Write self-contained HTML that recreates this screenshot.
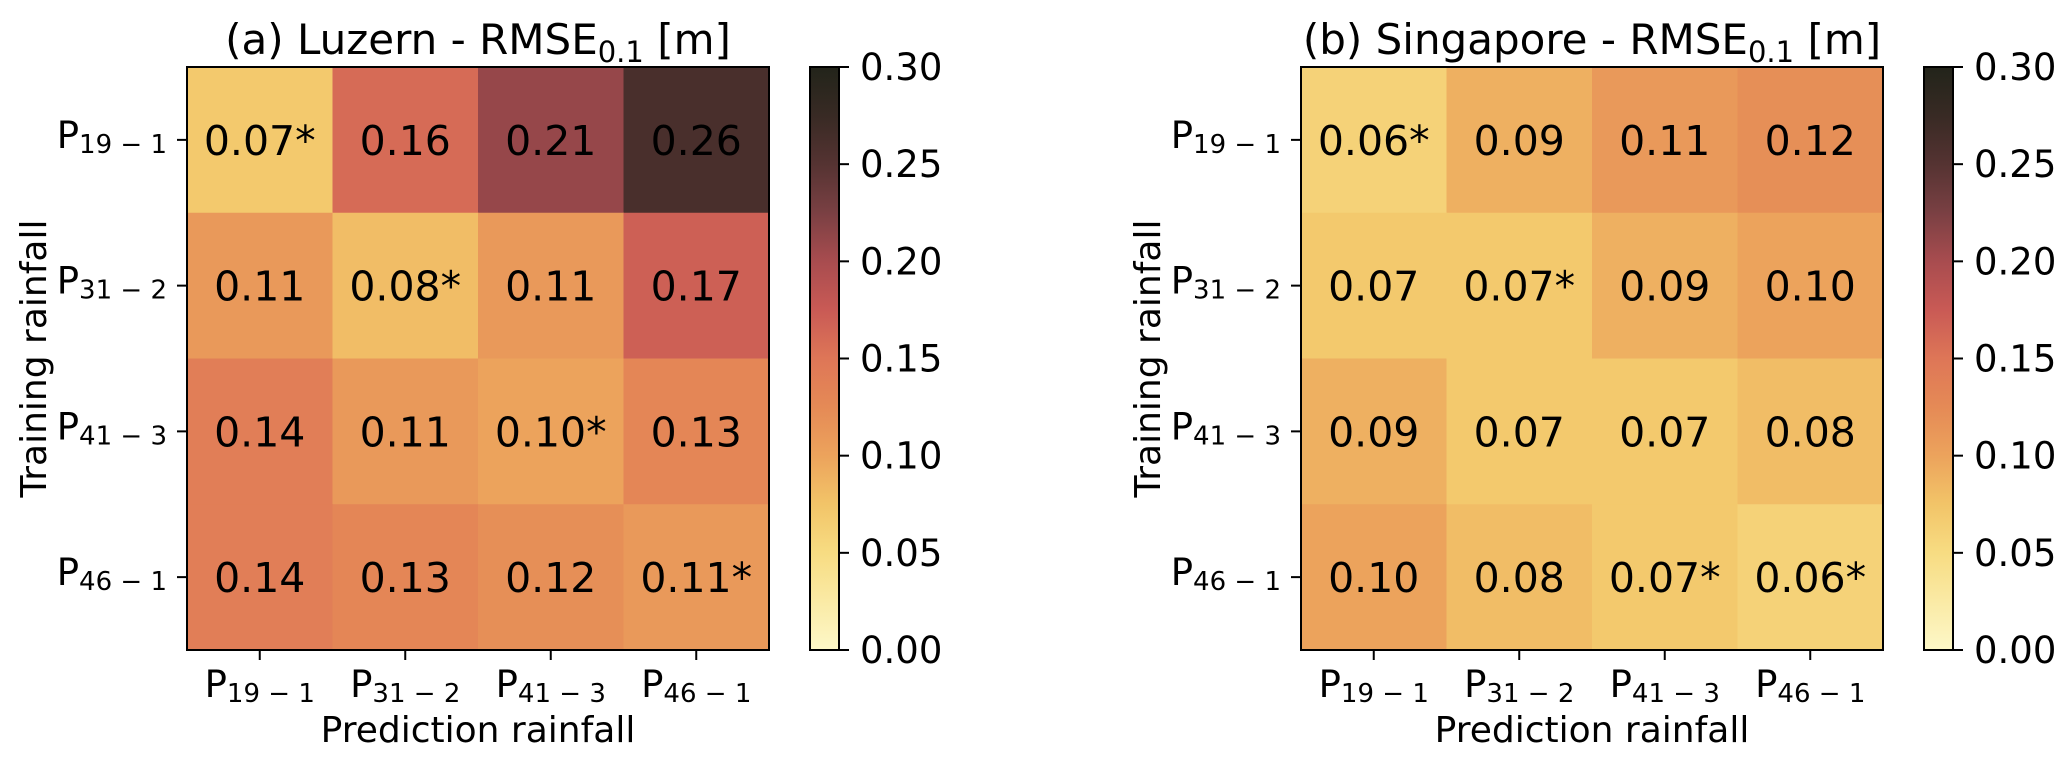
<!DOCTYPE html>
<html><head><meta charset="utf-8"><style>
html,body{margin:0;padding:0;background:#fff;}
svg{display:block;font-family:"DejaVu Sans","Liberation Sans",sans-serif;}
</style></head><body>
<svg id="fig" width="2067" height="767" viewBox="0 0 2067 767"></svg>
<script>
const categories = ["19 \u2212 1","31 \u2212 2","41 \u2212 3","46 \u2212 1"];
const luzernValues = [[0.07,0.16,0.21,0.26],[0.11,0.08,0.11,0.17],[0.14,0.11,0.10,0.13],[0.14,0.13,0.12,0.11]];
const luzernStars = [[1,0,0,0],[0,1,0,0],[0,0,1,0],[0,0,0,1]];
const singaporeValues = [[0.06,0.09,0.11,0.12],[0.07,0.07,0.09,0.10],[0.09,0.07,0.07,0.08],[0.10,0.08,0.07,0.06]];
const singaporeStars = [[1,0,0,0],[0,1,0,0],[0,0,0,0],[0,0,1,1]];
const cbTicks = [0.00,0.05,0.10,0.15,0.20,0.25,0.30];
const vmin = 0, vmax = 0.30;

const stops = [[0,'#fdf8c8'],[0.05,'#f7dc82'],[0.075,'#f2c468'],[0.10,'#eca35c'],[0.125,'#e58a56'],[0.15,'#de7657'],[0.175,'#c95a55'],[0.20,'#a84c4f'],[0.225,'#7a4043'],[0.25,'#553332'],[0.275,'#382a24'],[0.30,'#22241a']];
function hex(h){return [1,3,5].map(i=>parseInt(h.substr(i,2),16));}
function cmap(v){
  v=Math.max(vmin,Math.min(vmax,v));
  for(let i=0;i<stops.length-1;i++){
    if(v<=stops[i+1][0]){
      const t=(v-stops[i][0])/(stops[i+1][0]-stops[i][0]);
      const a=hex(stops[i][1]),b=hex(stops[i+1][1]);
      return 'rgb('+a.map((c,k)=>Math.round(c+(b[k]-c)*t)).join(',')+')';
    }
  }
  return stops[stops.length-1][1];
}
const NS='http://www.w3.org/2000/svg';
const svg=document.getElementById('fig');
function mk(tag,attrs,parent){const e=document.createElementNS(NS,tag);for(const k in attrs)e.setAttribute(k,attrs[k]);(parent||svg).appendChild(e);return e;}

const defs=mk('defs',{});
const grad=mk('linearGradient',{id:'cbg',x1:0,y1:1,x2:0,y2:0},defs);
stops.forEach(s=>mk('stop',{offset:(s[0]-vmin)/(vmax-vmin),'stop-color':s[1]},grad));

function panel(x0,title,name,vals,stars,cbx){
  const y0=67, W=582, H=583, n=4, cw=W/n, ch=H/n;
  const xs=i=>x0+(i+0.5)*cw, ys=j=>y0+(j+0.5)*ch;
  const g=mk('g',{});
  
  
  for(let r=0;r<n;r++)for(let c=0;c<n;c++){
    const rect=mk('rect',{x:x0+c*cw,y:y0+r*ch,width:cw+0.5,height:ch+0.5,fill:cmap(vals[r][c])},g);
    
    
    const t=mk('text',{x:xs(c),y:ys(r)+15,'font-size':41,'text-anchor':'middle',fill:'#000'},g);
    t.textContent=vals[r][c].toFixed(2)+(stars[r][c]?'*':'');
    
    
  }
  const fr=mk('rect',{x:x0,y:y0,width:W,height:H,fill:'none',stroke:'#000','stroke-width':2},g);
  
  
  for(let i=0;i<n;i++){
    mk('line',{x1:xs(i),x2:xs(i),y1:y0+H,y2:y0+H+10,stroke:'#000','stroke-width':2},g);
    const xl=mk('text',{x:xs(i),y:697,'font-size':37,'text-anchor':'middle'},g);
    xl.innerHTML='P<tspan font-size="26" dy="5">'+categories[i]+'</tspan>';
    
    
    mk('line',{x1:x0-10,x2:x0,y1:ys(i),y2:ys(i),stroke:'#000','stroke-width':2},g);
    const yl=mk('text',{x:x0-20,y:ys(i)+8,'font-size':37,'text-anchor':'end'},g);
    yl.innerHTML='P<tspan font-size="26" dy="5">'+categories[i]+'</tspan>';
    
    
  }
  const xt=mk('text',{x:x0+W/2,y:742,'font-size':36,'text-anchor':'middle'},g);
  xt.textContent='Prediction rainfall';
  
  
  const yt=mk('text',{x:0,y:0,'font-size':36,'text-anchor':'middle',transform:'translate('+(x0-141)+','+(y0+H/2)+') rotate(-90)'},g);
  yt.textContent='Training rainfall';
  
  
  const tt=mk('text',{x:x0+W/2,y:54,'font-size':42,'text-anchor':'middle'},g);
  tt.innerHTML=title+' - RMSE<tspan font-size="29" dy="8">0.1</tspan><tspan dy="-8"> [m]</tspan>';
  
  
  const cb=mk('rect',{x:cbx,y:y0,width:29,height:H,fill:'url(#cbg)',stroke:'#000','stroke-width':2},g);
  
  
  cbTicks.forEach(v=>{
    const y=y0+H-(v-vmin)/(vmax-vmin)*H;
    mk('line',{x1:cbx+29,x2:cbx+39,y1:y,y2:y,stroke:'#000','stroke-width':2},g);
    const l=mk('text',{x:cbx+50,y:y+13,'font-size':37},g);
    l.textContent=v.toFixed(2);
    
    
  });
}
panel(187,'(a) Luzern','luzern',luzernValues,luzernStars,810);
panel(1301,'(b) Singapore','singapore',singaporeValues,singaporeStars,1924);
</script>
</body></html>
